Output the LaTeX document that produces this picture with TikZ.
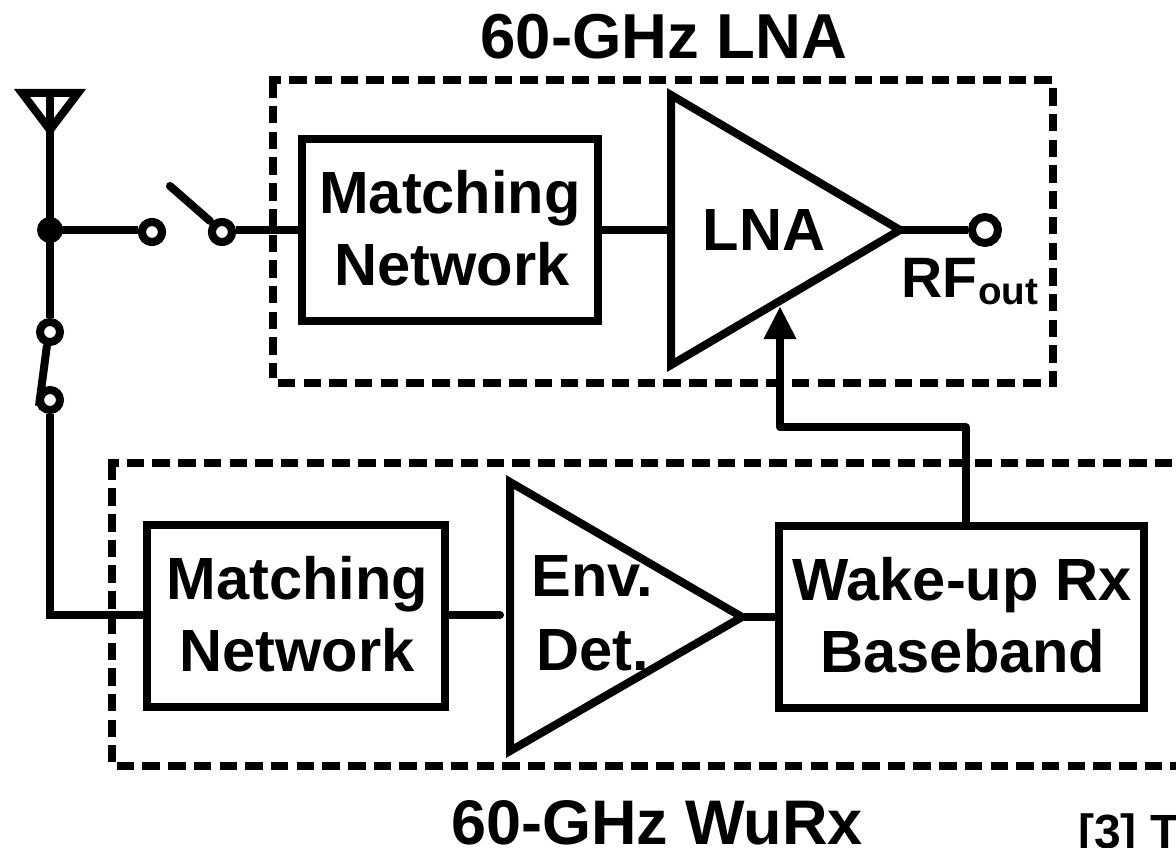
\documentclass[tikz,border=0pt]{standalone}
\usepackage{fontspec}
\setmainfont{Liberation Sans}
\usetikzlibrary{arrows.meta}
\tikzset{
  wire/.style={line width=8pt,line join=miter,black},
  blockbox/.style={draw,line width=8pt,rectangle,inner sep=0pt},
  group/.style={draw,line width=8pt,dash pattern=on 17.5pt off 8.2pt},
  amp/.style={line width=8pt,line join=miter,miter limit=10},
  term/.style={draw,circle,line width=8pt,fill=white,inner sep=0pt,minimum size=20pt},
  bigterm/.style={draw,circle,line width=8pt,fill=white,inner sep=0pt,minimum size=26pt},
  junction/.style={circle,fill=black,inner sep=0pt,minimum size=26pt},
  lab/.style={inner sep=0pt,anchor=base,font=\fontsize{59.6}{72}\selectfont\bfseries},
  title/.style={inner sep=0pt,anchor=base,font=\fontsize{63.5}{74}\selectfont\bfseries}
}
\begin{document}
\begin{tikzpicture}[x=1pt,y=-1pt]
\useasboundingbox (0,0) rectangle (1176,848);
\clip (0,0) rectangle (1176,848);
% group frames
\draw[group,dash phase=5.6pt] (269,80) -- (1052.5,80);
\draw[group] (273,80.3) -- (273,378);
\draw[group] (277.8,383) -- (1041,383);
\draw[group] (1053,88.3) -- (1053,387);
\draw[group,dash phase=7pt] (108,463) -- (1190,463);
\draw[group] (112,462.6) -- (112,762);
\draw[group] (116.7,766) -- (1190,766);
% coordinates
\coordinate (ant) at (50,93);
\coordinate (antb) at (50,130);
\coordinate (lnaT) at (671,95);
\coordinate (lnaB) at (671,365);
\coordinate (lnaO) at (900,230);
\coordinate (lnaI) at (671,230);
\coordinate (lnaC) at (780,307);
\coordinate (envT) at (510,482);
\coordinate (envB) at (510,751);
\coordinate (envO) at (742,617);
\coordinate (envI) at (500,615);
\coordinate (corner) at (50,615);
\coordinate (armA) at (170,186);
\coordinate (armB) at (210,221);
\coordinate (armC) at (47,345);
\coordinate (armD) at (39,406);
% blocks
\node[blockbox,minimum width=296pt,minimum height=182pt] (mn1) at (450,230) {};
\node[blockbox,minimum width=298pt,minimum height=182pt] (mn2) at (296,615.7) {};
\node[blockbox,minimum width=365pt,minimum height=182pt] (bb) at (961.5,617) {};
% terminals
\node[junction] (dot) at (50,230) {};
\node[term] (s1a) at (152,232) {};
\node[term] (s1b) at (222,232) {};
\node[term] (s2a) at (50,332) {};
\node[term] (s2b) at (50,400) {};
\node[bigterm] (out) at (985,230) {};
% connectors
\draw[wire] (antb) -- (dot.center);
\draw[wire] (dot.center) -- (s2a);
\draw[wire] (dot.center) -- (s1a.west |- dot);
\draw[wire] (s1b.east |- dot) -- (mn1.west |- dot);
\draw[wire,line cap=round] (armA) -- (armB);
\draw[wire] (armC) -- (armD) -- (s2b);
\draw[wire] (s2b) -- (corner) -- (mn2.west |- corner);
\draw[wire] (mn1.east |- lnaI) -- (lnaI);
\draw[wire] (lnaO) -- (out);
\draw[wire,line cap=round] (mn2.east |- envI) -- (envI);
\draw[wire] (envO) -- (bb.west |- envO);
\draw[line width=8pt,line join=round,-{Triangle[length=32pt,width=33pt,line width=0pt]}] (bb.north -| 965.5,525) |- (780,427) -- (lnaC);
% amplifiers and antenna
\draw[amp] (lnaT) -- (lnaO) -- (lnaB) -- cycle;
\draw[amp] (envT) -- (envO) -- (envB) -- cycle;
\draw[amp] (ant) -- (antb);
\draw[amp] (22,93) -- (78,93) -- (antb) -- cycle;
\node[term] at (152,232) {};
\node[term] at (222,232) {};
% labels
\node[lab] (m1a) at (450,213) {Matching};
\node[lab] (m1b) at (452,285) {Network};
\node[lab] (m2a) at (297.5,599) {Matching};
\node[lab] (m2b) at (297,671) {Network};
\node[lab] (w1) at (962,600) {Wake-up Rx};
\node[lab] (w2) at (963,672) {Baseband};
\node[lab] (lnal) at (764,251) {LNA};
\node[lab] (env1) at (592.5,596) {Env.};
\node[lab] (env2) at (592.5,670) {Det.};
\node[inner sep=0pt,anchor=base west,font=\fontsize{57}{60}\selectfont\bfseries] (rf) at (901,297) {RF};
\node[inner sep=0pt,anchor=base west,font=\fontsize{38.6}{42}\selectfont\bfseries] (rfo) at (978,304) {out};
\node[title] (t1) at (664,59) {60-GHz LNA};
\node[title,font=\fontsize{63}{74}\selectfont\bfseries] (t2) at (657,844) {60-GHz WuRx};
\node[inner sep=0pt,anchor=base west,font=\fontsize{48}{50}\selectfont\bfseries] (ref) at (1078,848) {[3] T};
\end{tikzpicture}
\end{document}
